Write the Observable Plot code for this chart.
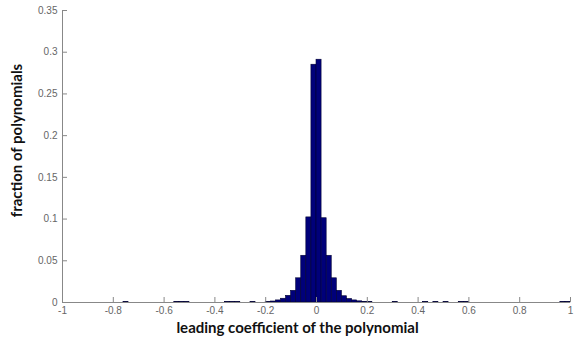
<!DOCTYPE html>
<html>
<head>
<meta charset="utf-8">
<script src="https://cdn.jsdelivr.net/npm/d3@7"></script>
<script src="https://cdn.jsdelivr.net/npm/@observablehq/plot@0.6"></script>
<style>
  html, body { margin: 0; padding: 0; background: #fff; }
  #chart { width: 574px; height: 342px; }
</style>
</head>
<body>
<div id="chart"></div>
<script>
// Histogram bins (width 0.02): left edges and fractions
const binLeft = [-0.76, -0.56, -0.54, -0.52, -0.36, -0.34, -0.32, -0.26,
  -0.20, -0.18, -0.16, -0.14, -0.12, -0.10, -0.08, -0.06, -0.04, -0.02,
  0.00, 0.02, 0.04, 0.06, 0.08, 0.10, 0.12, 0.14, 0.16, 0.18, 0.20,
  0.30, 0.42, 0.46, 0.50, 0.56, 0.58, 0.96, 0.98];
const fraction = [0.0006, 0.0006, 0.0006, 0.0005, 0.0005, 0.0005, 0.0004, 0.0004,
  0.0006, 0.0012, 0.0025, 0.0045, 0.008, 0.014, 0.029, 0.056, 0.102, 0.285,
  0.291, 0.101, 0.056, 0.029, 0.014, 0.0075, 0.0042, 0.0025, 0.0014, 0.0008, 0.0005,
  0.0005, 0.0005, 0.0005, 0.0005, 0.0006, 0.0006, 0.0006, 0.0006];
const binWidth = 0.02;
const xTicks = [-1, -0.8, -0.6, -0.4, -0.2, 0, 0.2, 0.4, 0.6, 0.8, 1];
const xTickLabels = ["-1", "-0.8", "-0.6", "-0.4", "-0.2", "0", "0.2", "0.4", "0.6", "0.8", "1"];
const yTicks = [0, 0.05, 0.1, 0.15, 0.2, 0.25, 0.3, 0.35];
const yTickLabels = ["0", "0.05", "0.1", "0.15", "0.2", "0.25", "0.3", "0.35"];
const xLabel = "leading coefficient of the polynomial";
const yLabel = "fraction of polynomials";

const bins = binLeft.map((l, i) => ({x1: l, x2: l + binWidth, y: fraction[i]}));

const plot = Plot.plot({
  width: 574,
  height: 342,
  marginLeft: 62,
  marginRight: 4,
  marginTop: 10,
  marginBottom: 40,
  style: {fontFamily: "Liberation Sans, Arial, sans-serif", fontSize: "10px", color: "#666", background: "#fff"},
  x: {domain: [-1, 1]},
  y: {domain: [0, 0.35]},
  marks: [
    Plot.rectY(bins, {x1: "x1", x2: "x2", y: "y", fill: "#00007a", stroke: "#000033", strokeWidth: 0.6}),
    Plot.axisX({ticks: xTicks, tickFormat: (d) => xTickLabels[xTicks.indexOf(d)], tickSize: -5, tickPadding: 9, stroke: "#888", fill: "#666", label: null}),
    Plot.axisY({ticks: yTicks, tickFormat: (d) => yTickLabels[yTicks.indexOf(d)], tickSize: -5, tickPadding: 10, stroke: "#888", fill: "#666", label: null}),
    Plot.ruleY([0], {stroke: "#888"}),
    Plot.ruleX([-1], {stroke: "#888"}),
    Plot.text([xLabel], {frameAnchor: "bottom", dx: -19, dy: 30, fontSize: 15, fontWeight: "bold", fill: "#111", fontFamily: "Lato, sans-serif"}),
    Plot.text([yLabel], {frameAnchor: "left", textAnchor: "middle", dx: -45, dy: -16, rotate: -90, fontSize: 15, fontWeight: "bold", fill: "#111", fontFamily: "Lato, sans-serif"})
  ]
});
document.getElementById("chart").appendChild(plot);
</script>
</body>
</html>
